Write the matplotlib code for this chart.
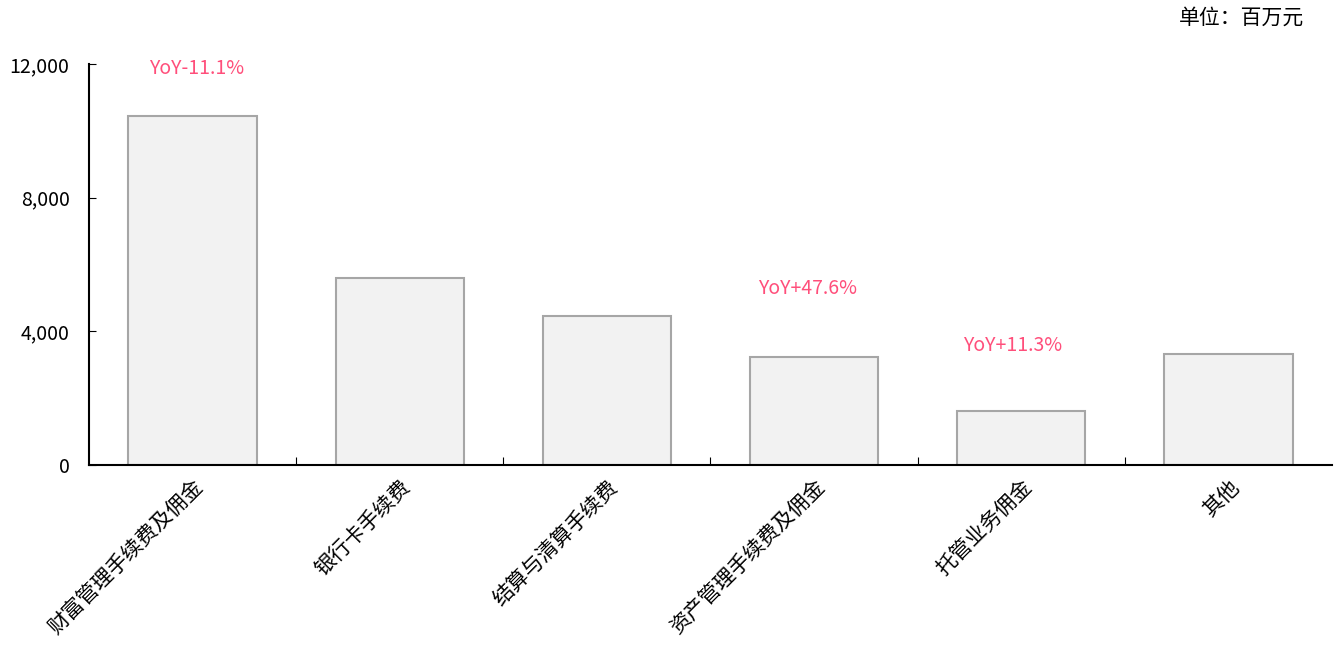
import matplotlib
matplotlib.use('Agg')
import matplotlib.pyplot as plt
from matplotlib.ticker import FuncFormatter

plt.rcParams['font.family'] = ['Noto Sans CJK SC', 'DejaVu Sans']

categories = ['财富管理手续费及佣金', '银行卡手续费', '结算与清算手续费',
              '资产管理手续费及佣金', '托管业务佣金', '其他']
values = [10440, 5600, 4460, 3230, 1620, 3320]
yoy_text = ['YoY-11.1%', None, None, 'YoY+47.6%', 'YoY+11.3%', None]
yoy_y = [11880, None, None, 5270, 3590, None]
yoy_x = [0.02, None, None, -0.03, -0.04, None]

fig = plt.figure(figsize=(13.38, 6.46), dpi=100)
ax = fig.add_axes([0.0665, 0.2802, 0.929, 0.6207])

x = list(range(len(categories)))
ax.bar(x, values, width=0.62, color='#F2F2F2', edgecolor='#A6A6A6', linewidth=1.5, zorder=2)

for i, t in enumerate(yoy_text):
    if t:
        ax.text(i + yoy_x[i], yoy_y[i], t, ha='center', va='center',
                color='#FF4F7B', fontsize=14)

ax.set_xlim(-0.5, len(categories) - 0.5)
ax.set_ylim(0, 12000)
ax.set_yticks([0, 4000, 8000, 12000])
ax.yaxis.set_major_formatter(FuncFormatter(lambda v, p: f'{int(v):,}'))
ax.tick_params(axis='y', direction='in', length=5, labelsize=14, pad=14)

ax.set_xticks([i + 0.5 for i in range(len(categories) - 1)])
ax.set_xticklabels([])
ax.set_xticks(x, minor=True)
ax.set_xticklabels(categories, minor=True, rotation=45, ha='right',
                   rotation_mode='anchor', fontsize=15)
ax.tick_params(axis='x', which='major', direction='in', length=6)
ax.tick_params(axis='x', which='minor', length=0, pad=8)

for s in ['top', 'right']:
    ax.spines[s].set_visible(False)
ax.spines['left'].set_linewidth(1.5)
ax.spines['bottom'].set_linewidth(1.5)

fig.text(0.975, 0.972, '单位：百万元', ha='right', va='center', fontsize=15)

fig.savefig('out.png', dpi=100)
